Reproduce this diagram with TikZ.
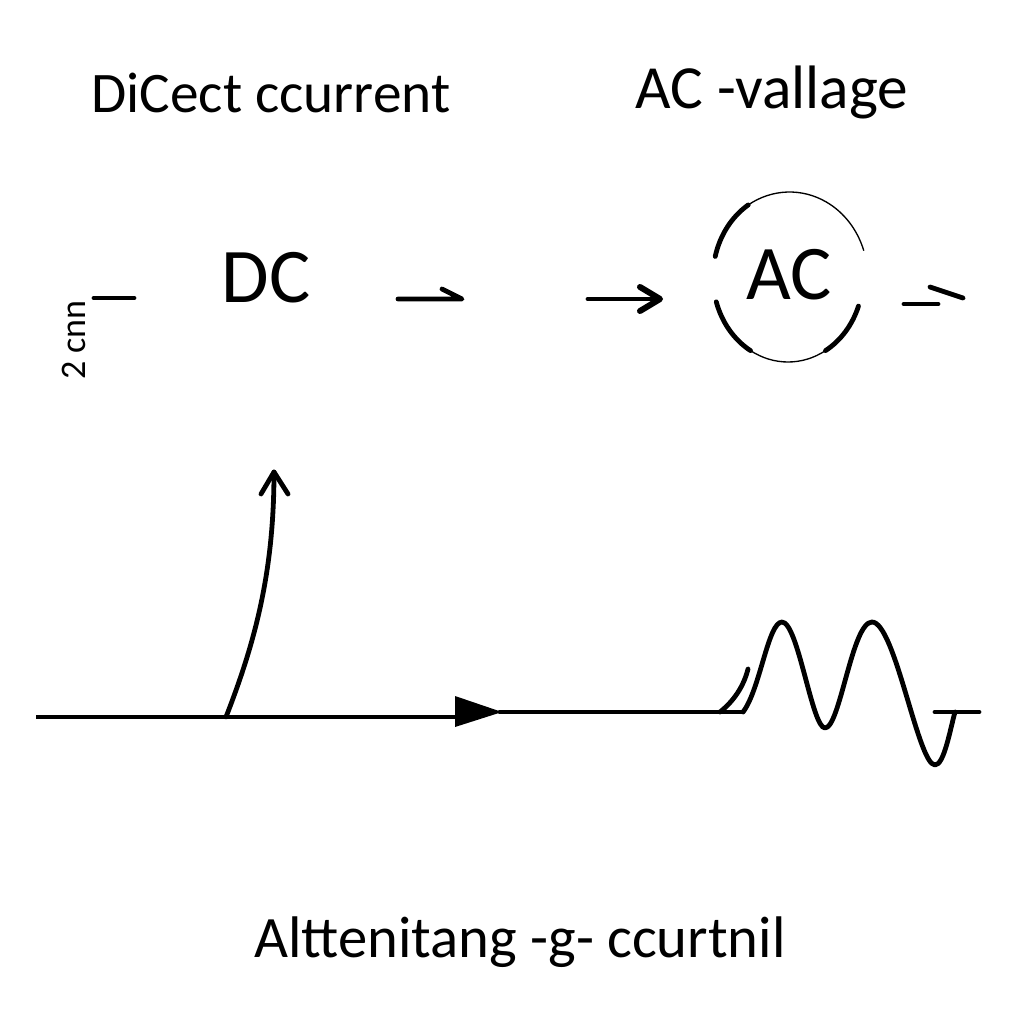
\documentclass[tikz,border=0pt]{standalone}
\usepackage{fontspec}
\setmainfont{Carlito}
\usetikzlibrary{arrows.meta}
\begin{document}
\begin{tikzpicture}[x=0.75pt,y=-0.75pt,
  ln/.style={line width=3.6pt,line cap=round,line join=round},
  thin/.style={line width=1pt},
  bigtxt/.style={font=\fontsize{43}{50}\selectfont,inner sep=0pt},
  midtxt/.style={font=\fontsize{58}{64}\selectfont,inner sep=0pt}]
\useasboundingbox[fill=white] (0,0) rectangle (1024,1024);
% titles
\node[bigtxt] (t1) at (271,93) {DiCect ccurrent};
\node[bigtxt,font=\fontsize{46}{52}\selectfont] (t2) at (772,92) {AC -vallage};
\node[bigtxt,font=\fontsize{44}{50}\selectfont] (t3) at (520,942) {Alttenitang -g- ccurtnil};
% middle row
\node[midtxt] (dc) at (266,278) {DC};
\node[midtxt] (ac) at (789,275) {AC};
\node[font=\fontsize{27}{30}\selectfont,rotate=90,inner sep=0pt] (side) at (74,340) {2 cnn};
\draw[ln] (94,298) -- (134,298);
% arrow 1 (half barb)
\coordinate (a1s) at (398,299);
\coordinate (a1e) at (462,299);
\draw[ln] (a1s) -- (a1e) -- (442,289);
% arrow 2
\coordinate (a2s) at (588,299);
\coordinate (a2e) at (660,299);
\draw[ln] (a2s) -- (a2e);
\draw[ln,line width=4.5pt] (640,287) -- (a2e) -- (640,311);
% ellipse around AC
\coordinate (ec) at (788,277);
\draw[ln] ([shift={(166:75 and -85)}]ec) arc[start angle=166,end angle=122,x radius=75,y radius=-85];
\draw[thin] ([shift={(122:75 and -85)}]ec) arc[start angle=122,end angle=18,x radius=78,y radius=-85];
\draw[ln] ([shift={(197:75 and -85)}]ec) arc[start angle=197,end angle=240,x radius=75,y radius=-85];
\draw[thin] ([shift={(240:75 and -85)}]ec) arc[start angle=240,end angle=300,x radius=75,y radius=-85];
\draw[ln] ([shift={(300:75 and -85)}]ec) arc[start angle=300,end angle=340,x radius=75,y radius=-85];
% right marks
\draw[ln] (904,304) -- (938,304);
\draw[ln] (930,287) -- (963,298);
% horizontal axis
\coordinate (h0) at (36,717);
\coordinate (hb) at (226,717);
\coordinate (hm) at (500,712);
\coordinate (h1) at (743,712);
\draw[ln,line cap=butt] (h0) -- (460,717);
\fill (455,696) -- (502,712) -- (455,727) -- cycle;
\draw[ln] (hm) -- (h1);
% vertical curved arrow
\coordinate (vt) at (274,472);
\draw[ln] (hb) .. controls (256,640) and (274,570) .. (vt);
\draw[ln] (261,494) -- (vt) -- (288,494);
% wave
\draw[ln] (h1) .. controls (760,690) and (768,622) .. (782,622)
  .. controls (798,622) and (812,728) .. (825,728)
  .. controls (840,728) and (852,622) .. (872,622)
  .. controls (895,622) and (918,765) .. (935,765)
  .. controls (944,765) and (950,730) .. (955,712);
\draw[ln] (935,712) -- (979,712);
\draw[ln] (720,712) .. controls (735,700) and (744,685) .. (748,669);
\end{tikzpicture}
\end{document}
